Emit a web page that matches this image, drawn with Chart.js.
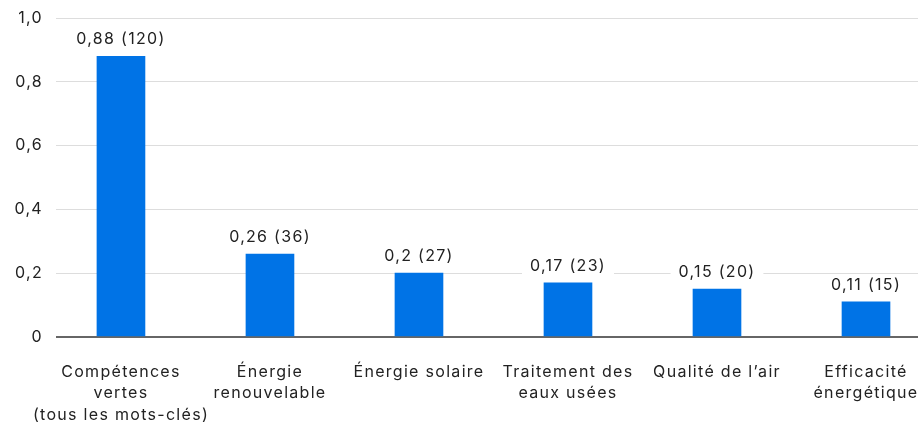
<!DOCTYPE html>
<html>
<head>
<meta charset="utf-8">
<script src="https://cdn.jsdelivr.net/npm/chart.js@4/dist/chart.umd.min.js"></script>
<style>
  html, body { margin: 0; padding: 0; background: #fff; }
  #wrap { width: 918px; height: 424px; }
</style>
</head>
<body>
<div id="wrap"><canvas id="barChart"></canvas></div>
<script>
const categories = [
    ['Compétences', 'vertes', '(tous les mots-clés)'],
    ['Énergie', 'renouvelable'],
    ['Énergie solaire'],
    ['Traitement des', 'eaux usées'],
    ['Qualité de l’air'],
    ['Efficacité', 'énergétique']
];
const shares = [0.88, 0.26, 0.2, 0.17, 0.15, 0.11];
const counts = [120, 36, 27, 23, 20, 15];
const yTicks = [0, 0.2, 0.4, 0.6, 0.8, 1.0];

const FONT = 'Inter, "Liberation Sans", Arial, sans-serif';
const fmt = (v) => v === 0 ? '0' : String(v).replace('.', ',');

// espacement des lettres un peu plus large, comme sur l'original
const spacing = {
    id: 'spacing',
    beforeInit(chart) { chart.ctx.letterSpacing = '1.3px'; },
    beforeDraw(chart) { chart.ctx.letterSpacing = '1.3px'; }
};

// étiquettes au-dessus des barres, avec fond blanc
const barLabels = {
    id: 'barLabels',
    afterDatasetsDraw(chart) {
        const ctx = chart.ctx;
        const meta = chart.getDatasetMeta(0);
        ctx.save();
        ctx.font = '16px ' + FONT;
        ctx.textAlign = 'center';
        ctx.textBaseline = 'middle';
        meta.data.forEach((bar, i) => {
            const text = fmt(shares[i]) + ' (' + counts[i] + ')';
            const w = ctx.measureText(text).width;
            const y = bar.y - 17;
            ctx.fillStyle = '#fff';
            ctx.fillRect(bar.x - w / 2 - 8, y - 10, w + 16, 20);
            ctx.fillStyle = '#222';
            ctx.fillText(text, bar.x, y);
        });
        ctx.restore();
    }
};

const ctxBar = document.getElementById('barChart');
new Chart(ctxBar, {
    type: 'bar',
    data: {
        datasets: [{
            data: shares.map((v, i) => ({ x: i, y: v })),
            backgroundColor: '#0073e6',
            barThickness: 48,
            borderWidth: 0
        }]
    },
    plugins: [spacing, barLabels],
    options: {
        responsive: true,
        maintainAspectRatio: false,
        animation: false,
        layout: { padding: { top: 18, right: 0, bottom: 0, left: 0 } },
        plugins: { legend: { display: false }, tooltip: { enabled: false } },
        scales: {
            x: {
                type: 'linear',
                offset: false,
                min: -0.436,
                max: 5.349,
                grid: { display: false },
                border: { display: false },
                afterBuildTicks: (scale) => { scale.ticks = categories.map((_, i) => ({ value: i })); },
                afterFit: (scale) => {
                    scale.height = 87;
                    scale.paddingLeft = 0;
                    scale.paddingRight = 0;
                },
                ticks: {
                    autoSkip: false,
                    maxRotation: 0,
                    padding: 16,
                    color: '#222',
                    font: { family: FONT, size: 16, lineHeight: 1.36 },
                    callback: (v) => categories[v]
                }
            },
            y: {
                min: 0,
                max: 1,
                afterBuildTicks: (scale) => { scale.ticks = yTicks.map(v => ({ value: v })); },
                afterFit: (scale) => {
                    scale.width = 56;
                    scale.paddingTop = 0;
                    scale.paddingBottom = 0;
                },
                border: { display: false },
                grid: {
                    drawTicks: false,
                    color: (c) => c.tick && c.tick.value === 0 ? '#666' : '#ddd',
                    lineWidth: (c) => c.tick && c.tick.value === 0 ? 2 : 1
                },
                ticks: {
                    padding: 13,
                    color: '#222',
                    font: { family: FONT, size: 16 },
                    callback: (v) => v === 0 ? '0' : v.toFixed(1).replace('.', ',')
                }
            }
        }
    }
});
</script>
</body>
</html>
